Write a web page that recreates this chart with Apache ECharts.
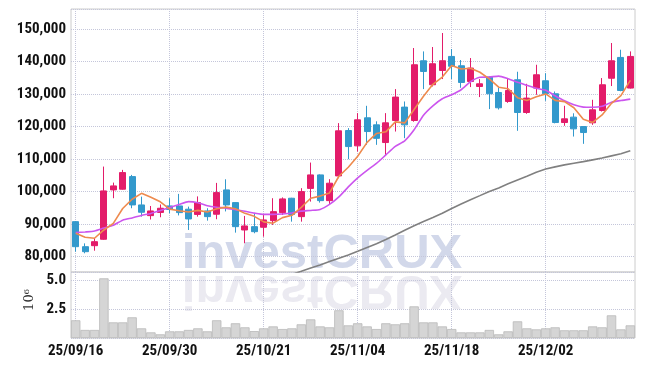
<!DOCTYPE html>
<html>
<head>
<meta charset="utf-8">
<script src="https://cdn.jsdelivr.net/npm/echarts@6/dist/echarts.min.js"></script>
<style>
  html, body { margin: 0; padding: 0; background: #fff; }
  #chart { width: 645px; height: 366px; }
</style>
</head>
<body>
<div id="chart"></div>
<script>
var dates = [
  "25/09/16", "25/09/17", "25/09/18", "25/09/19", "25/09/22", "25/09/23", "25/09/24", "25/09/25", "25/09/26", "25/09/29",
  "25/09/30", "25/10/01", "25/10/02", "25/10/10", "25/10/13", "25/10/14", "25/10/15", "25/10/16", "25/10/17", "25/10/20",
  "25/10/21", "25/10/22", "25/10/23", "25/10/24", "25/10/27", "25/10/28", "25/10/29", "25/10/30", "25/10/31", "25/11/03",
  "25/11/04", "25/11/05", "25/11/06", "25/11/07", "25/11/10", "25/11/11", "25/11/12", "25/11/13", "25/11/14", "25/11/17",
  "25/11/18", "25/11/19", "25/11/20", "25/11/21", "25/11/24", "25/11/25", "25/11/26", "25/11/27", "25/11/28", "25/12/01",
  "25/12/02", "25/12/03", "25/12/04", "25/12/05", "25/12/08", "25/12/09", "25/12/10", "25/12/11", "25/12/12", "25/12/15"
];

var opens = [
  90780, 83085, 83390, 85360, 100540, 100750, 104630, 95920, 92630, 93610,
  95610, 95610, 94600, 93000, 94070, 93060, 100540, 96630, 88220, 89240,
  89050, 91090, 93560, 97980, 92320, 101000, 105150, 97240, 104840, 118790,
  114080, 122700, 120540, 115100, 121870, 125990, 121870, 140240, 132860, 137260,
  141570, 138700, 133870, 132330, 135220, 130490, 127720, 134400, 124330, 131840,
  134090, 130090, 121250, 122910, 120020, 121160, 124950, 134860, 141260, 131840
];
var closes = [
  83085, 81545, 84620, 100230, 101770, 105860, 95920, 93670, 94070, 94900,
  94530, 93560, 91610, 96630, 92320, 99710, 95920, 89240, 89460, 87700,
  91300, 93860, 97770, 93000, 100010, 105150, 97240, 102600, 118700, 113860,
  122080, 118480, 116390, 121160, 129070, 120540, 139010, 136950, 139320, 140240,
  138550, 133560, 138000, 133160, 130090, 125780, 131100, 124330, 128760, 135930,
  130090, 121250, 122390, 119310, 118170, 125160, 132860, 140240, 131100, 141570
];
var lows = [
  81545, 81050, 81850, 85200, 97980, 100600, 94900, 92320, 91440, 92130,
  93370, 92690, 88220, 92320, 91090, 91520, 93920, 87400, 84130, 87210,
  86160, 89770, 92840, 90780, 90780, 96940, 96630, 95920, 104130, 109980,
  112320, 114390, 114390, 111000, 118480, 116450, 121500, 131530, 132330, 134610,
  134610, 131930, 132150, 129070, 125380, 125250, 127310, 118700, 123930, 129780,
  127930, 121000, 120240, 116940, 114700, 120540, 124640, 132460, 130860, 131700
];
var highs = [
  90900, 84100, 85670, 107710, 102780, 106690, 105150, 98470, 95590, 96070,
  97980, 99310, 95400, 98540, 94900, 102690, 103800, 96700, 92530, 93370,
  92800, 97980, 98230, 98100, 101070, 108940, 105300, 103830, 121070, 119530,
  124140, 126390, 121620, 124140, 131530, 127720, 144150, 143110, 144460, 148770,
  143840, 140460, 141070, 134610, 135400, 131930, 134920, 136860, 133160, 139010,
  136400, 130790, 126390, 124090, 120100, 128240, 134920, 145690, 143630, 143110
];

var ma5 = [
  87210, 85980, 85670, 88220, 90250, 94810, 97680, 99490, 98260, 96880,
  94620, 94150, 93730, 94250, 93730, 94770, 95240, 94760, 93330, 92410,
  90720, 90310, 92020, 92730, 95190, 97960, 98630, 99600, 104740, 107510,
  110900, 115140, 117900, 118390, 121440, 121130, 125230, 129350, 132980, 135210,
  138810, 137720, 137930, 136700, 134670, 132120, 131630, 128890, 128010, 129180,
  130040, 128070, 127680, 125790, 122240, 121260, 123580, 127150, 129510, 134190
];
var ma20 = [
  87390, 87610, 87920, 88840, 89670, 91240, 91920, 92690, 93300, 94200,
  95150, 96070, 96930, 96600, 95670, 95210, 94940, 94440, 93950, 93400,
  93000, 93000, 93150, 93460, 94010, 94230, 94530, 96070, 98380, 101460,
  104230, 106540, 108690, 111310, 113930, 115620, 119000, 123500, 126390, 128550,
  129780, 131320, 133780, 135160, 135230, 135530, 134700, 133630, 132700, 131780,
  131160, 129470, 127930, 126700, 125990, 125930, 126240, 127470, 128020, 128450
];
var ma60 = [
  "-", "-", "-", "-", "-", "-", "-", "-", "-", "-",
  "-", "-", "-", "-", "-", "-", "-", "-", "-", "-",
  "-", 72900, 73760, 74560, 75510, 76500, 77450, 78500, 79510, 80530,
  81670, 82840, 84010, 85300, 86690, 88160, 89520, 90840, 92070, 93360,
  94840, 96230, 97520, 98780, 100070, 101150, 102440, 103610, 104750, 105980,
  106940, 107620, 108230, 108750, 109220, 109770, 110320, 111000, 111680, 112600
];

// volume, in millions of shares
var volumes = [
  1.54, 0.70, 0.70, 5.19, 1.36, 1.36, 1.80, 0.84, 0.49, 0.32,
  0.58, 0.58, 0.70, 0.84, 0.58, 1.54, 0.93, 1.28, 0.93, 0.60,
  0.84, 1.01, 0.78, 0.84, 1.19, 1.62, 1.01, 0.93, 2.41, 1.10,
  1.28, 1.01, 0.78, 1.28, 1.19, 1.28, 2.75, 1.36, 1.36, 1.01,
  0.78, 0.49, 0.49, 0.49, 0.70, 0.32, 0.58, 1.45, 0.84, 0.75,
  0.84, 0.93, 0.67, 0.67, 0.67, 1.01, 0.93, 1.97, 0.75, 1.10
];

var UP = "#e31c6a";
var DOWN = "#3399cc";
var labelFont = '"Roboto Condensed", "Liberation Sans Narrow", "Liberation Sans", sans-serif';
var gridLine = { show: true, lineStyle: { color: "#c4c6da", type: "dotted", width: 1 } };

var candles = dates.map(function (d, i) {
  return [opens[i], closes[i], lows[i], highs[i]];
});

var myChart = echarts.init(document.getElementById("chart"), null, { renderer: "canvas" });

var option = {
  animation: false,
  backgroundColor: "#fff",
  grid: [
    { left: 71, right: 10, top: 9, height: 263, show: true, borderColor: "#cccccc", borderWidth: 1 },
    { left: 71, right: 10, top: 272, height: 66, show: true, borderColor: "#cccccc", borderWidth: 1 }
  ],
  graphic: [
    {
      type: "text", z: -1, silent: true,
      x: 322, y: 254,
      style: { text: "investCRUX", font: 'bold 49px "Liberation Sans", Arial, sans-serif', fill: "#d2d8ea", align: "center", verticalAlign: "middle" }
    },
    {
      type: "text", z: -1, silent: true,
      x: 322, y: 290, scaleY: -1,
      style: { text: "investCRUX", font: 'bold 49px "Liberation Sans", Arial, sans-serif', fill: "#ebeaf1", align: "center", verticalAlign: "middle" }
    },
    {
      type: "text", silent: true,
      x: 30, y: 300, rotation: Math.PI / 2,
      style: { text: "10⁶", font: '13px "DejaVu Serif", serif', fill: "#333", align: "center", verticalAlign: "middle" }
    }
  ],
  xAxis: [
    {
      type: "category", gridIndex: 0, data: dates, boundaryGap: true,
      axisLine: { show: false }, axisTick: { show: false, alignWithLabel: true, interval: 9 },
      axisLabel: { show: false, interval: 9 },
      splitLine: Object.assign({ interval: 9, alignWithLabel: true }, gridLine)
    },
    {
      type: "category", gridIndex: 1, data: dates, boundaryGap: true,
      axisLine: { show: false }, axisTick: { show: false, alignWithLabel: true, interval: 9 },
      axisLabel: { interval: 9, color: "#111", fontFamily: labelFont, fontWeight: "bold", fontSize: 15, margin: 6 },
      splitLine: Object.assign({ interval: 9, alignWithLabel: true }, gridLine)
    }
  ],
  yAxis: [
    {
      type: "value", gridIndex: 0, min: 75300, max: 156150, splitNumber: 8, scale: true,
      axisLine: { show: false }, axisTick: { show: false },
      axisLabel: {
        color: "#111", fontFamily: labelFont, fontWeight: "bold", fontSize: 15, margin: 5,
        formatter: function (v) { return v % 10000 === 0 ? v.toLocaleString("en-US") : ""; }
      },
      splitLine: gridLine
    },
    {
      type: "value", gridIndex: 1, min: 0, max: 5.74, interval: 2.5,
      axisLine: { show: false }, axisTick: { show: false },
      axisLabel: {
        color: "#111", fontFamily: labelFont, fontWeight: "bold", fontSize: 15, margin: 5,
        formatter: function (v) { return v === 2.5 ? "2.5" : v === 5 ? "5.0" : ""; }
      },
      splitLine: gridLine
    }
  ],
  series: [
    {
      type: "candlestick", xAxisIndex: 0, yAxisIndex: 0, data: candles, barWidth: "68%",
      itemStyle: { color: UP, color0: DOWN, borderColor: UP, borderColor0: DOWN, borderWidth: 1 },
      z: 3
    },
    {
      type: "line", xAxisIndex: 0, yAxisIndex: 0, data: ma60, showSymbol: false, clip: true,
      lineStyle: { color: "#808080", width: 1.6 }, z: 4
    },
    {
      type: "line", xAxisIndex: 0, yAxisIndex: 0, data: ma20, showSymbol: false, smooth: 0.2,
      lineStyle: { color: "#cc55ee", width: 1.6 }, z: 4
    },
    {
      type: "line", xAxisIndex: 0, yAxisIndex: 0, data: ma5, showSymbol: false,
      lineStyle: { color: "#ee8a4e", width: 1.6 }, z: 5
    },
    {
      type: "bar", xAxisIndex: 1, yAxisIndex: 1, data: volumes, barCategoryGap: "0%",
      itemStyle: { color: "#d5d5d5", borderColor: "#b9b9b9", borderWidth: 0.8 }
    }
  ]
};

myChart.setOption(option);
</script>
</body>
</html>
